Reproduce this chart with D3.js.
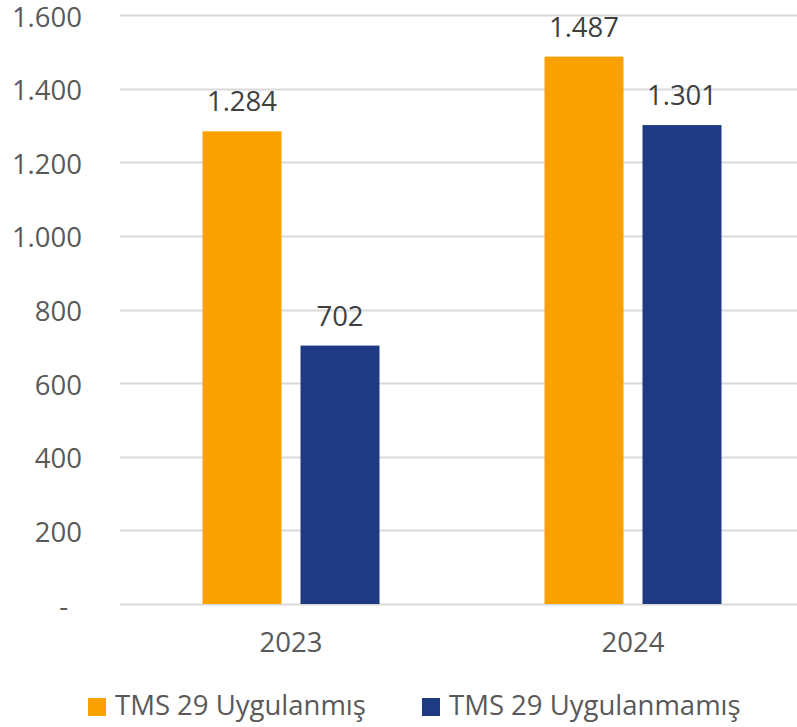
<!DOCTYPE html>
<html>
<head>
<meta charset="utf-8">
<script src="https://cdn.jsdelivr.net/npm/d3@7"></script>
<style>
  html, body { margin: 0; padding: 0; background: #fff; }
  svg { display: block; font-family: "Open Sans", sans-serif; }
</style>
</head>
<body>
<svg id="chart" width="797" height="727"></svg>
<script>
const categories = ["2023", "2024"];
const seriesNames = ["TMS 29 Uygulanmış", "TMS 29 Uygulanmamış"];
const applied = [1284, 1487];
const notApplied = [702, 1301];
const yTicks = [0, 200, 400, 600, 800, 1000, 1200, 1400, 1600];
const colors = ["#F9A100", "#1E3A82"];

const svg = d3.select("#chart");
const locale = d3.formatLocale({ decimal: ",", thousands: ".", grouping: [3], currency: ["", ""] });
const fmt = locale.format(",d");

const plot = { left: 120, right: 804, top: 15, bottom: 604 };
const y = d3.scaleLinear().domain([0, 1600]).range([plot.bottom, plot.top]);
const x0 = d3.scaleBand().domain(categories).range([plot.left, plot.right]);
const inner = 82.5;
const x1 = d3.scaleBand().domain(seriesNames)
  .range([inner, x0.bandwidth() - inner]).paddingInner(0.194);

// gridlines
svg.append("g").selectAll("line").data(yTicks).join("line")
  .attr("x1", plot.left).attr("x2", plot.right)
  .attr("y1", d => Math.round(y(d)) + 0.5).attr("y2", d => Math.round(y(d)) + 0.5)
  .attr("stroke", "#D9D9D9").attr("stroke-width", 2);

// y axis labels
const yAxis = d3.axisLeft(y).tickValues(yTicks).tickSize(0).tickPadding(0)
  .tickFormat(d => d === 0 ? "-" : fmt(d));
const yg = svg.append("g").attr("transform", "translate(82,0)").call(yAxis);
yg.select(".domain").remove();
yg.selectAll("text").attr("font-size", 27.5).attr("fill", "#595959")
  .attr("font-family", "Open Sans, sans-serif")
  .attr("dy", 11)
  .attr("x", d => d === 0 ? -14 : 0);

// x axis labels
const xAxis = d3.axisBottom(x0).tickSize(0).tickPadding(0);
const xg = svg.append("g").attr("transform", "translate(0,624)").call(xAxis);
xg.select(".domain").remove();
xg.selectAll("text").attr("font-size", 27.5).attr("fill", "#595959")
  .attr("font-family", "Open Sans, sans-serif")
  .attr("dy", "1em");

const rows = categories.map((c, i) => ({ cat: c, vals: [applied[i], notApplied[i]] }));

const groups = svg.append("g").selectAll("g").data(rows).join("g")
  .attr("transform", d => `translate(${x0(d.cat)},0)`);

groups.selectAll("rect").data(d => d.vals.map((v, j) => ({ s: seriesNames[j], v, j })))
  .join("rect")
  .attr("x", d => x1(d.s)).attr("width", x1.bandwidth())
  .attr("y", d => y(d.v)).attr("height", d => y(0) - y(d.v))
  .attr("fill", d => colors[d.j]);

groups.selectAll("text.val").data(d => d.vals.map((v, j) => ({ s: seriesNames[j], v, j })))
  .join("text").attr("class", "val")
  .attr("x", d => x1(d.s) + x1.bandwidth() / 2)
  .attr("y", d => y(d.v) - 20)
  .attr("text-anchor", "middle")
  .attr("font-size", 27.5).attr("fill", "#404040")
  .text(d => fmt(d.v));

// legend
const legendX = [88, 422];
const leg = svg.append("g").selectAll("g").data(seriesNames).join("g")
  .attr("transform", (d, i) => `translate(${legendX[i]},698)`);
leg.append("rect").attr("width", 18).attr("height", 18).attr("fill", (d, i) => colors[i]);
leg.append("text").attr("x", 27).attr("y", 17).attr("font-size", 27.5)
  .attr("fill", "#595959").text(d => d);
</script>
</body>
</html>
